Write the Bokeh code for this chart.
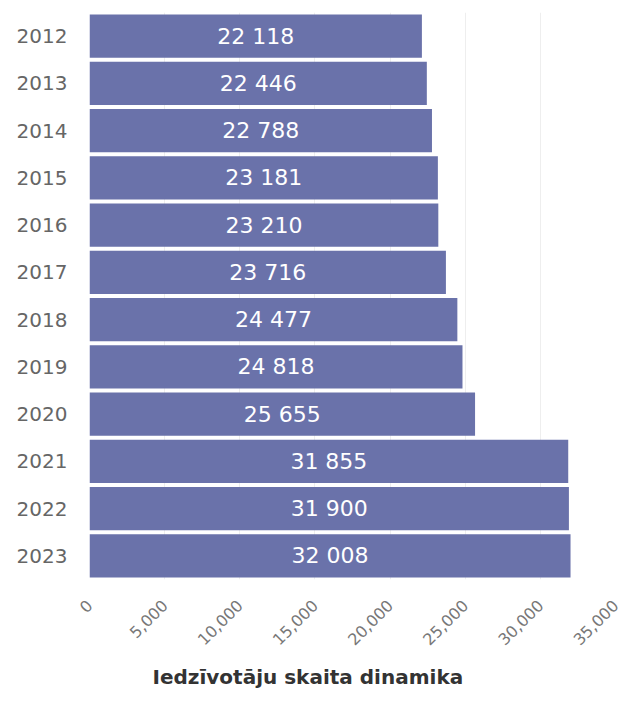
import math
from bokeh.plotting import figure
from bokeh.models import ColumnDataSource, NumeralTickFormatter, Title, FixedTicker, Range1d
from bokeh.embed import file_html
from bokeh.resources import INLINE

years = ["2012", "2013", "2014", "2015", "2016", "2017", "2018", "2019", "2020", "2021", "2022", "2023"]
population = [22118, 22446, 22788, 23181, 23210, 23716, 24477, 24818, 25655, 31855, 31900, 32008]
x_ticks = [0, 5000, 10000, 15000, 20000, 25000, 30000, 35000]
title_text = "Iedzīvotāju skaita dinamika"

labels = ["{:,}".format(v).replace(",", " ") for v in population]
src = ColumnDataSource(dict(year=years, pop=population, label=labels,
                            mid=[v / 2 for v in population]))

FONT = "DejaVu Sans"
p = figure(y_range=list(reversed(years)), x_range=Range1d(0, 35000),
           width=625, height=697, output_backend="svg", toolbar_location=None,
           min_border_left=89, min_border_right=10, min_border_top=12, min_border_bottom=10)

p.hbar(y="year", right="pop", height=0.92, source=src, color="#6a72aa", line_color=None)
p.text(x="mid", y="year", text="label", source=src, text_color="white",
       text_align="center", text_baseline="middle", text_font_size="22px",
       text_font={"value": FONT})

p.xaxis.ticker = FixedTicker(ticks=x_ticks)
p.xaxis.formatter = NumeralTickFormatter(format="0,0")
p.xaxis.major_label_orientation = math.pi / 4
p.xaxis.major_label_text_font_size = "16px"
p.xaxis.major_label_text_color = "#777777"
p.xaxis.major_label_text_font = FONT
p.xaxis.axis_line_color = None
p.xaxis.major_tick_line_color = None
p.xaxis.minor_tick_line_color = None
p.xaxis.major_label_standoff = 17

p.yaxis.major_label_text_font_size = "20px"
p.yaxis.major_label_text_color = "#666666"
p.yaxis.major_label_text_font = FONT
p.yaxis.axis_line_color = None
p.yaxis.major_tick_line_color = None
p.yaxis.minor_tick_line_color = None
p.yaxis.major_label_standoff = 16

p.ygrid.grid_line_color = None
p.xgrid.grid_line_color = "#eeeeee"
p.outline_line_color = None

t = Title(text=title_text, align="left", offset=63, standoff=18, text_font_size="20px",
          text_font=FONT, text_font_style="bold", text_color="#333333")
p.add_layout(t, "below")

open("out.html", "w").write(file_html(p, INLINE))
